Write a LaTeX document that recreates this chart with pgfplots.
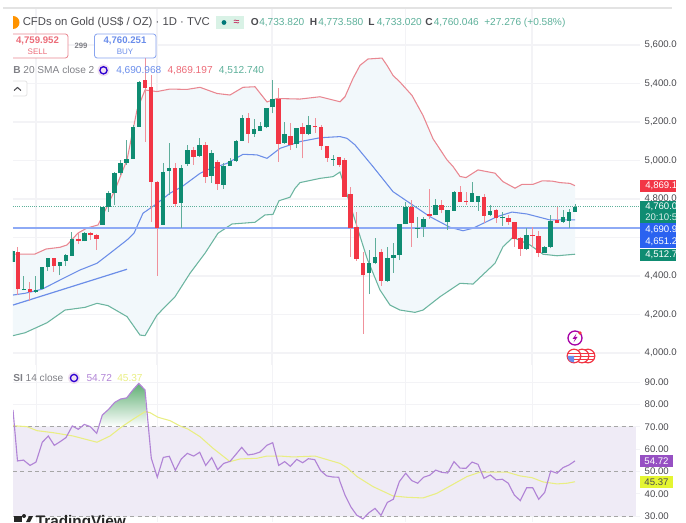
\documentclass[border=0pt]{standalone}
\usepackage{fontspec}
\setmainfont{Liberation Sans}
\usepackage{pgfplots}
\usepackage{pgfplotstable}
\pgfplotsset{compat=1.18}
\definecolor{gup}{HTML}{0F8C72}
\definecolor{gwick}{HTML}{5FAE9B}
\definecolor{rdn}{HTML}{F23645}
\definecolor{rwick}{HTML}{F0919B}
\definecolor{bbup}{HTML}{E98791}
\definecolor{bbmid}{HTML}{6C8EE8}
\definecolor{bblo}{HTML}{6CB5A0}
\definecolor{bbfill}{HTML}{F2F8FB}
\definecolor{gridc}{HTML}{F3F3F6}
\definecolor{rsifill}{HTML}{EFEBF6}
\definecolor{rsil}{HTML}{B184D6}
\definecolor{rsima}{HTML}{E9EE83}
\definecolor{txt}{HTML}{4A4A4F}
\definecolor{grayt}{HTML}{7F8086}
\definecolor{valg}{HTML}{5DB09A}
\definecolor{valr}{HTML}{EC6B78}
\definecolor{valb}{HTML}{6A8DEB}
\definecolor{tagblue}{HTML}{2A62F0}
\definecolor{tagpur}{HTML}{9650C3}
\definecolor{tagyel}{HTML}{E4F532}
\definecolor{shadeg}{HTML}{5FAF73}
\definecolor{hlineb}{HTML}{8EAAF5}
\pgfplotstableread{
x t b h l
13 4530 4473 4535 4473
24 4334 4327 4400 4327
36 4329 4317 4400 4312
42 4445 4331 4448 4331
48 4492 4445 4493 4426
60 4474 4452 4474 4405
66 4507 4476 4514 4452
72 4592 4505 4627 4505
84.5 4622 4580 4630 4580
102.3 4760 4665 4760 4665
108.6 4830 4757 4843 4734
114.6 4937 4831 4940 4769
120.7 4985 4933 5003 4925
126.7 5006 4985 5106 4977
133 5176 5008 5184 5008
139 5409 5176 5413 5174
163 4942 4665 4987 4665
169 4959 4945 5089 4821
181 4963 4781 4977 4648
187.5 5055 4980 5081 4973
199.5 5081 5023 5115 5018
211.7 5037 4919 5055 4883
223.7 4973 4873 4987 4852
230 4997 4973 5011 4973
236 5103 4997 5106 4994
242 5222 5103 5236 5101
254 5162 5138 5214 5124
260 5179 5155 5201 5153
266.7 5274 5176 5274 5167
272.7 5318 5276 5418 5245
284.7 5138 5092 5201 5086
296.7 5167 5086 5169 5063
308.7 5186 5138 5231 5132
333 5008 5003 5029 4973
369 4467 4414 4535 4306
375 4500 4466 4599 4462
387.3 4492 4374 4549 4369
393.3 4509 4495 4573 4417
399.3 4670 4509 4670 4483
405.7 4757 4670 4786 4670
417.7 4651 4646 4705 4599
423.7 4698 4653 4708 4604
435.7 4767 4715 4798 4715
447.7 4741 4679 4743 4639
454 4836 4739 4843 4739
472 4833 4786 4887 4783
478 4817 4786 4817 4738
490 4739 4717 4769 4712
502.3 4705 4700 4731 4660
526.7 4613 4540 4648 4535
544.7 4551 4521 4556 4518
550.7 4687 4552 4717 4544
563 4706 4682 4743 4677
569 4731 4686 4746 4648
575 4760 4734 4774 4733
}\greentbl
\pgfplotstableread{
x t b h l
18 4526 4331 4551 4301
30 4334 4315 4370 4272
54 4492 4452 4493 4421
78.5 4594 4583 4630 4566
90.5 4623 4615 4627 4587
96.7 4611 4591 4617 4535
145 5418 5377 5532 5098
151 5380 4890 5444 4682
157 4890 4651 4893 4400
175 4963 4774 4987 4760
193.5 5055 5017 5072 4977
205.5 5081 4916 5098 4883
217.7 4991 4876 5003 4847
248 5222 5138 5245 5089
278.7 5321 5086 5375 4994
290.7 5129 5081 5193 5055
302.7 5176 5136 5196 5011
315 5181 5172 5219 5144
321 5172 5075 5184 5055
327 5075 5013 5075 4994
339 5017 4977 5020 4968
344.7 5003 4812 5013 4812
350.7 4826 4648 4864 4500
356.7 4653 4487 4734 4479
363 4466 4404 4526 4099
381 4523 4375 4540 4350
411.7 4757 4674 4795 4552
429.7 4720 4713 4852 4695
441.7 4767 4743 4795 4726
460 4838 4786 4869 4783
466 4790 4783 4838 4769
484 4812 4713 4826 4674
496 4743 4700 4748 4677
508.3 4703 4679 4717 4665
514.3 4682 4594 4682 4552
520.3 4597 4540 4604 4505
532.7 4613 4609 4656 4552
538.7 4609 4521 4635 4497
557 4691 4677 4760 4674
}\redtbl
\tikzset{px/.style={x=0.75pt,y=-0.75pt,yshift=391.5pt}}
\newcommand{\fs}[1]{\fontsize{#1}{#1}\selectfont}
\begin{document}
\begin{tikzpicture}
\begin{scope}
\clip (0,0) rectangle (507pt,391.5pt);
\begin{axis}[
  at={(9.75pt,117.75pt)}, anchor=south west,
  scale only axis, width=470.25pt, height=267.75pt,
  xmin=13, xmax=640, ymin=3937.6, ymax=5792,
  axis line style={draw=none},
  xtick={36,157,272,405.7,532}, xticklabels={},
  ytick={4000,4200,4400,4600,4800,5000,5200,5400,5600},
  yticklabel pos=right,
  yticklabels={{4,000.00},{4,200.00},{4,400.00},{},{4,800.00},{5,000.00},{5,200.00},{5,400.00},{5,600.00}},
  grid=major, grid style={gridc,line width=0.9pt},
  tick style={draw=none},
  tick label style={font=\fs{7.2},text=txt},
  clip=true,
]
\addplot[fill=bbfill,draw=none] coordinates {(13,4513)(35,4514)(46,4540)(60,4549)(67,4561)(78,4623)(87,4649)(98,4665)(103,4717)(115,4847)(127,5003)(137,5262)(145,5366)(157,5358)(170,5371)(187,5369)(200,5380)(217,5348)(230,5340)(243,5380)(255,5383)(267,5304)(277,5322)(300,5319)(320,5331)(340,5305)(345,5331)(353,5426)(360,5494)(368,5527)(382,5532)(387,5494)(393,5442)(400,5407)(412,5338)(423,5234)(433,5113)(447,5003)(453,4969)(460,4917)(466,4911)(478,4951)(495,4934)(503,4890)(515,4856)(522,4876)(533,4876)(542,4894)(552,4893)(560,4885)(570,4881)(575,4869)
(575,4513)(557,4505)(543,4513)(530,4561)(513,4601)(503,4552)(495,4466)(473,4358)(460,4362)(440,4292)(423,4223)(415,4211)(400,4223)(390,4249)(380,4327)(367,4492)(357,4656)(340,4940)(333,4916)(320,4907)(300,4885)(295,4855)(290,4809)(279,4791)(273,4720)(265,4717)(255,4679)(232,4670)(218,4622)(205,4518)(190,4414)(175,4292)(157,4197)(145,4090)(140,4093)(127,4189)(108,4246)(97,4258)(85,4237)(65,4223)(47,4157)(25,4105)(13,4090)} -- cycle;
\addplot[bbup,line width=0.8pt] coordinates {(13,4513)(35,4514)(46,4540)(60,4549)(67,4561)(78,4623)(87,4649)(98,4665)(103,4717)(115,4847)(127,5003)(137,5262)(145,5366)(157,5358)(170,5371)(187,5369)(200,5380)(217,5348)(230,5340)(243,5380)(255,5383)(267,5304)(277,5322)(300,5319)(320,5331)(340,5305)(345,5331)(353,5426)(360,5494)(368,5527)(382,5532)(387,5494)(393,5442)(400,5407)(412,5338)(423,5234)(433,5113)(447,5003)(453,4969)(460,4917)(466,4911)(478,4951)(495,4934)(503,4890)(515,4856)(522,4876)(533,4876)(542,4894)(552,4893)(560,4885)(570,4881)(575,4869)};
\addplot[bblo,line width=0.8pt] coordinates {(13,4090)(25,4105)(47,4157)(65,4223)(85,4237)(97,4258)(108,4246)(127,4189)(140,4093)(145,4090)(157,4197)(175,4292)(190,4414)(205,4518)(218,4622)(232,4670)(255,4679)(265,4717)(273,4720)(279,4791)(290,4809)(295,4855)(300,4885)(320,4907)(333,4916)(340,4940)(357,4656)(367,4492)(380,4327)(390,4249)(400,4223)(415,4211)(423,4223)(440,4292)(460,4362)(473,4358)(495,4466)(503,4552)(513,4601)(530,4561)(543,4513)(557,4505)(575,4513)};
\addplot[bbmid,line width=0.8pt] coordinates {(13,4301)(25,4310)(42,4331)(60,4379)(80,4431)(97,4466)(110,4518)(127,4587)(134,4622)(143,4726)(155,4769)(170,4830)(182,4864)(200,4933)(207,4951)(227,4985)(243,5032)(257,5029)(267,5011)(280,5063)(300,5098)(320,5118)(340,5124)(347,5115)(355,5081)(373,4968)(393,4838)(410,4778)(430,4708)(450,4653)(463,4635)(473,4648)(497,4708)(512,4732)(527,4722)(550,4691)(575,4691)};
\addplot[bbmid,line width=0.9pt] coordinates {(13,4249)(127,4435)};
\addplot[valg,line width=0.6pt,densely dotted] coordinates {(13,4760)(640,4760)};
\addplot[hlineb,line width=1.5pt] coordinates {(13,4651)(640,4651)};
\addplot[draw=none,forget plot,error bars/.cd,y dir=plus,y explicit,error mark=none,error bar style={draw=gwick,line width=0.75pt}] table[x=x,y=l,y error expr=\thisrow{h}-\thisrow{l}] \greentbl;
\addplot[draw=none,forget plot,error bars/.cd,y dir=plus,y explicit,error mark=none,error bar style={draw=rwick,line width=0.75pt}] table[x=x,y=l,y error expr=\thisrow{h}-\thisrow{l}] \redtbl;
\addplot[draw=none,forget plot,error bars/.cd,y dir=plus,y explicit,error mark=none,error bar style={draw=gup,line width=3.6pt}] table[x=x,y=b,y error expr=\thisrow{t}-\thisrow{b}] \greentbl;
\addplot[draw=none,forget plot,error bars/.cd,y dir=plus,y explicit,error mark=none,error bar style={draw=rdn,line width=3.6pt}] table[x=x,y=b,y error expr=\thisrow{t}-\thisrow{b}] \redtbl;
\end{axis}
\begin{axis}[
  at={(9.75pt,0pt)}, anchor=south west,
  scale only axis, width=470.25pt, height=117.75pt,
  xmin=13, xmax=640, ymin=27.31, ymax=97.76,
  axis line style={draw=none},
  xtick={36,157,272,405.7,532}, xticklabels={},
  ytick={30,40,50,60,70,80,90},
  yticklabel pos=right,
  yticklabel style={/pgf/number format/.cd,fixed,fixed zerofill,precision=2,assume math mode=true},
  grid=major, grid style={gridc,line width=0.7pt},
  tick style={draw=none},
  tick label style={font=\fs{7.2},text=txt},
  clip=true,
]
\addplot[fill=rsifill,draw=none,forget plot] coordinates {(13,30)(636,30)(636,70)(13,70)} -- cycle;
\addplot[draw=none,forget plot,top color=shadeg,bottom color=white] coordinates {(100,70)(102.3,75.3)(108.6,77.9)(114.6,81)(120.7,82.5)(126.7,83)(133,86.6)(139,89.5)(145,86.6)(147,70)} -- cycle;
\addplot[gray!70,line width=0.6pt,dash pattern=on 3pt off 2.5pt] coordinates {(13,70)(636,70)};
\addplot[gray!70,line width=0.6pt,dash pattern=on 3pt off 2.5pt] coordinates {(13,50)(636,50)};
\addplot[gray!70,line width=0.6pt,dash pattern=on 3pt off 2.5pt] coordinates {(13,30)(636,30)};
\addplot[rsima,line width=0.8pt] coordinates {(13,70.5)(27,70.1)(37,68.3)(53,67.4)(73,65.9)(97,63.1)(110,65.9)(122,70.1)(133,73.4)(145,76.8)(150,76.4)(158,74.3)(170,72.8)(180,70.4)(188,69)(200,65.6)(213,60.4)(230,54.4)(240,55.6)(257,55.9)(267,56.9)(280,56.9)(293,56.5)(315,56.9)(340,53.6)(347,51.7)(357,47.7)(373,43.2)(393,39)(407,38.4)(423,38.1)(437,40.2)(453,44.2)(467,47.7)(480,49.7)(507,49.7)(520,48)(532,47.2)(543,45.3)(557,44.4)(567,44.7)(575,45.37)};
\addplot[rsil,line width=0.85pt] coordinates {(13,77.6)(17.5,54.7)(23.5,55.1)(30,52.7)(36,54.2)(42.3,63.1)(48.3,65.9)(54.3,61.7)(60.3,63.4)(66,65.2)(72.3,70.4)(78.3,68.9)(84.3,71.1)(90.3,70.1)(96.7,67.1)(102.3,75.3)(108.7,77.9)(114.7,81)(120.7,82.5)(126.7,83)(133,86.6)(138.7,89.5)(145,86.6)(151.3,55.9)(157.3,47.4)(163.3,56.3)(169.3,56.8)(175.3,50.5)(181.3,55.6)(187.3,58.1)(193.7,56.9)(199.7,58.6)(205.7,52.7)(211.7,56.2)(217.7,50.8)(223.7,53.6)(230,54.5)(236,57.7)(241.7,60.8)(248,57.4)(254,57.8)(260,58.7)(266.7,61.7)(272.7,62.9)(278.7,52.7)(284.7,54.4)(290.3,52.3)(296.7,55.4)(302.7,53.9)(308.3,55.7)(314.7,55.3)(320.7,50.3)(326.7,48)(332.7,47.5)(338.7,47.4)(340,45.4)(345,39.4)(350.7,34.2)(356.7,30.4)(363,28.7)(369,31.5)(375,33.4)(381,30.3)(387.3,36.1)(393.3,37.5)(399.3,45.4)(405.7,49.2)(411.7,45.9)(417.7,44.7)(423.7,47.4)(429.7,48.3)(435.7,50.6)(441.7,49.6)(447.7,49.3)(454,54.4)(460,51.5)(466,51.4)(472,54.2)(478,53.2)(484,46.9)(490.3,48.4)(496.3,46.2)(502.3,46.5)(508.3,44.7)(514.3,39.4)(520.3,36.9)(526.7,42.7)(532.7,42.7)(538.7,37.5)(544.7,40.6)(550.7,50.2)(557,49.2)(563,51.7)(569,52.9)(575,54.72)};
\end{axis}
\begin{scope}[px]
% top rule
\fill[gray!22] (3,7) rectangle (672,9.5);
% header
\fill[orange!85!yellow] (13,22.5) circle (6.5);
\fill[white] (0,11) rectangle (13,34);
\node[anchor=west,inner sep=0,text=txt] at (22.5,22.5) {\fs{8.5}CFDs on Gold (US\$ / OZ) · 1D · TVC};
\fill[green!30!teal!15] (216,16) rectangle (244,29);
\fill[teal!95!black] (224,22.5) circle (2.4);
\node[inner sep=0,text=purple] at (236.5,22.5) {\fs{8}≈};
\newcommand{\hv}[3]{\node[anchor=west,inner sep=0,text=txt] at (#1,22.5) {\fs{7.6}\textbf{#2}};\node[anchor=west,inner sep=0,text=valg] at (#1+8.5,22.5) {\fs{7.6}#3};}
\hv{250.5}{O}{4,733.820}
\hv{309.5}{H}{4,773.580}
\hv{368}{L}{4,733.020}
\hv{425}{C}{4,760.046}
\node[anchor=west,inner sep=0,text=valg] at (484,22.5) {\fs{7.6}+27.276 (+0.58\%)};
% sell/buy
\draw[bbup,fill=white,rounded corners=2pt,line width=0.6pt] (6,34) rectangle (68,58);
\fill[white] (0,30) rectangle (13,60);
\node[text=valr,inner sep=0] at (37.5,40.7) {\fs{7.2}\textbf{4,759.952}};
\node[text=valr,inner sep=0] at (37.5,51.4) {\fs{6}SELL};
\node[text=grayt,inner sep=0] at (81,46.3) {\fs{5.8}\textbf{299}};
\draw[valb!80,fill=white,rounded corners=2pt,line width=0.6pt] (94.5,34) rectangle (156,58);
\node[text=valb,inner sep=0] at (125,40.7) {\fs{7.2}\textbf{4,760.251}};
\node[text=valb,inner sep=0] at (125,51.4) {\fs{6}BUY};
% BB legend
\node[anchor=west,inner sep=0,text=grayt] at (13,70.3) {\fs{7.6}\textbf{B} 20 SMA close 2};
\fill[violet!12] (103.5,70.3) circle (6);
\draw[blue!65!violet,line width=1pt] (103.5,70.3) circle (3.6);
\node[anchor=west,inner sep=0,text=valb] at (116,70.3) {\fs{7.6}4,690.968};
\node[anchor=west,inner sep=0,text=valr] at (167.3,70.3) {\fs{7.6}4,869.197};
\node[anchor=west,inner sep=0,text=valg] at (218.7,70.3) {\fs{7.6}4,512.740};
\draw[gray!25,fill=white,rounded corners=1.5pt,line width=0.5pt] (8,81) rectangle (27,96);
\fill[white] (0,78) rectangle (13,99);
\draw[txt,line width=0.8pt] (14,90.5) -- (17.5,87.5) -- (21,90.5);
% price tags
\fill[rdn] (640,180) rectangle (676,192);
\node[anchor=west,inner sep=0,text=white] at (645,186) {\fs{7.2}4,869.197};
\fill[gup] (640,201) rectangle (676,223.5);
\node[anchor=west,inner sep=0,text=white] at (645,207) {\fs{7.2}4,760.046};
\node[anchor=west,inner sep=0,text=white!85!gup] at (645,217.5) {\fs{7.2}20:10:58};
\fill[tagblue] (640,223.5) rectangle (676,248);
\node[anchor=west,inner sep=0,text=white] at (645,229.5) {\fs{7.2}4,690.968};
\node[anchor=west,inner sep=0,text=white] at (645,242) {\fs{7.2}4,651.200};
\fill[gup] (640,249) rectangle (676,261);
\node[anchor=west,inner sep=0,text=white] at (645,255) {\fs{7.2}4,512.740};
% rsi tags
\fill[tagpur] (640,455) rectangle (673,467);
\node[text=white,inner sep=0] at (656.5,461) {\fs{7.2}54.72};
\fill[tagyel] (640,476) rectangle (673,488);
\node[text=txt,inner sep=0] at (656.5,482) {\fs{7.2}45.37};
% rsi legend
\node[anchor=west,inner sep=0,text=grayt] at (13,378) {\fs{7.6}\textbf{SI} 14 close};
\fill[violet!12] (74,378) circle (6);
\draw[blue!65!violet,line width=1pt] (74,378) circle (3.6);
\node[anchor=west,inner sep=0,text=rsil] at (86.3,378) {\fs{7.6}54.72};
\node[anchor=west,inner sep=0,text=rsima] at (117,378) {\fs{7.6}45.37};
% TradingView
\node[anchor=base west,inner sep=0,text=black!85] at (35.5,526) {\fs{11.5}\textbf{TradingView}};
\fill[black!85] (14,516) rectangle (22,522);
\fill[black!85] (24,516) circle (2);
\fill[black!85] (26,522) -- (29,516) -- (33,516) -- (30,522) -- cycle;
% icons
\draw[violet!70!magenta,line width=1pt,fill=white] (575,338) circle (7);
\fill[violet!70!magenta] (576.5,333.5) -- (572.5,339) -- (575,339) -- (573.5,342.5) -- (577.5,337) -- (575,337) -- cycle;
\fill[rdn] (580,333) circle (1.8);
\foreach \cx in {588,582,574}{
  \draw[rdn,fill=white,line width=0.9pt] (\cx,356) circle (6.8);
  \draw[rdn,line width=0.8pt] (\cx-6.3,353.5) -- (\cx+6.3,353.5) (\cx-6.6,356.5) -- (\cx+6.6,356.5) (\cx-5.5,359.7) -- (\cx+5.5,359.7);
}
\fill[valb] (574,356) -- (567.5,356) arc (180:90:6.5) -- cycle;
\end{scope}
\end{scope}
\pgfresetboundingbox
\useasboundingbox (0,0) rectangle (514.5pt,391.5pt);
\end{tikzpicture}
\end{document}
